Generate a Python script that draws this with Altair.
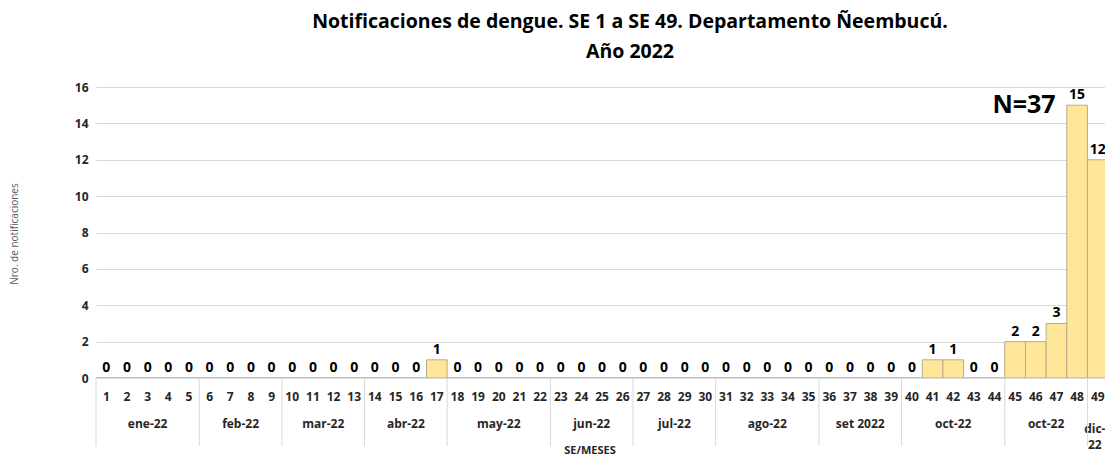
import altair as alt
import pandas as pd

se = list(range(1, 50))
valores = [0, 0, 0, 0, 0, 0, 0, 0, 0, 0,
           0, 0, 0, 0, 0, 0, 1, 0, 0, 0,
           0, 0, 0, 0, 0, 0, 0, 0, 0, 0,
           0, 0, 0, 0, 0, 0, 0, 0, 0, 0,
           1, 1, 0, 0, 2, 2, 3, 15, 12]
meses = ["ene-22", "feb-22", "mar-22", "abr-22", "may-22", "jun-22", "jul-22",
         "ago-22", "set 2022", "oct-22", "oct-22", "dic-\n22"]
mes_inicio = [1, 6, 10, 14, 18, 23, 27, 31, 36, 40, 45, 49]
mes_fin = [5, 9, 13, 17, 22, 26, 30, 35, 39, 44, 48, 49]
titulo = ["Notificaciones de dengue. SE 1 a SE 49. Departamento Ñeembucú.", "Año 2022"]
total_txt = "N=37"

df = pd.DataFrame({"se": se, "n": valores})
dm = pd.DataFrame({"mes": meses, "ini": mes_inicio, "fin": mes_fin,
                   "dic": ["\n" in m for m in meses]})
dt = pd.DataFrame({"t": titulo, "linea": [0, 1]})
dn = pd.DataFrame({"t": [total_txt]})

W, H = 1009, 291
FONT = "Open Sans"
xs = alt.Scale(domain=[0.5, 49.35], nice=False, zero=False, padding=0)
ys = alt.Scale(domain=[0, 16], nice=False, padding=0)

base = alt.Chart(df)

bars = base.transform_calculate(a="datum.se - 0.5", b="datum.se + 0.5", z="0").mark_bar(
    fill="#FFE699", stroke="#B8AD8A", strokeWidth=1, clip=True
).encode(
    x=alt.X("a:Q", scale=xs, axis=None),
    x2="b:Q",
    y=alt.Y("n:Q", scale=ys, axis=alt.Axis(
        values=list(range(0, 17, 2)), title=None, ticks=False, domain=False,
        grid=True, gridColor="#D9D9D9", labelFont=FONT, labelFontWeight="bold",
        labelFontSize=12, labelColor="#262626", labelPadding=8)),
    y2="z:Q",
)

labels = base.mark_text(baseline="bottom", dy=-3, font=FONT, fontWeight="bold",
                        fontSize=14, color="#000000").encode(
    x=alt.X("se:Q", scale=xs), y=alt.Y("n:Q", scale=ys, axis=None), text="n:Q")

se_lab = base.mark_text(baseline="middle", font=FONT, fontWeight="bold",
                        fontSize=12, color="#262626").encode(
    x=alt.X("se:Q", scale=xs), y=alt.value(310), text="se:N")

mbase = alt.Chart(dm).transform_calculate(c="(datum.ini + datum.fin) / 2",
                                          s="datum.ini - 0.5")
mes_lab = mbase.transform_filter("!datum.dic").mark_text(
    baseline="middle", font=FONT, fontWeight="bold", fontSize=12, color="#262626").encode(
    x=alt.X("c:Q", scale=xs), y=alt.value(337), text="mes:N")
dic_lab = mbase.transform_filter("datum.dic").mark_text(
    baseline="middle", font=FONT, fontWeight="bold", fontSize=12, color="#262626",
    lineHeight=16, dx=-3).encode(
    x=alt.X("c:Q", scale=xs), y=alt.value(342), text=alt.value(meses[-1].split("\n")))
seps = mbase.mark_rule(color="#D9D9D9", strokeWidth=1).encode(
    x=alt.X("s:Q", scale=xs), y=alt.value(H), y2=alt.value(359))

tit = alt.Chart(dt).mark_text(baseline="middle", align="center", font=FONT,
                              fontWeight="bold", fontSize=19.5, color="#000000").encode(
    x=alt.value(534), y=alt.Y("linea:Q", scale=alt.Scale(domain=[0, 1], range=[-65, -35]),
                              axis=None), text="t:N")

ntot = alt.Chart(dn).mark_text(baseline="middle", align="center", font=FONT,
                               fontWeight="bold", fontSize=25, color="#000000").encode(
    x=alt.value(928), y=alt.value(18), text="t:N")

ytit = alt.Chart(dn).mark_text(baseline="middle", align="center", font=FONT,
                               fontSize=10, color="#595959", angle=270).encode(
    x=alt.value(-81), y=alt.value(147), text=alt.value("Nro. de notificaciones"))

xtit = alt.Chart(dn).mark_text(baseline="middle", align="center", font=FONT,
                               fontWeight="bold", fontSize=11, color="#262626").encode(
    x=alt.value(494), y=alt.value(364), text=alt.value("SE/MESES"))

chart = alt.layer(bars, labels, se_lab, mes_lab, dic_lab, seps, tit, ntot, ytit, xtit).resolve_scale(
    y="independent"
).properties(
    width=W, height=H,
    autosize=alt.AutoSizeParams(type="none"),
    padding={"left": 88, "top": 79, "right": 0, "bottom": 78},
).configure_view(stroke=None)

chart.save("out.html", embed_options={"renderer": "svg", "actions": False})
